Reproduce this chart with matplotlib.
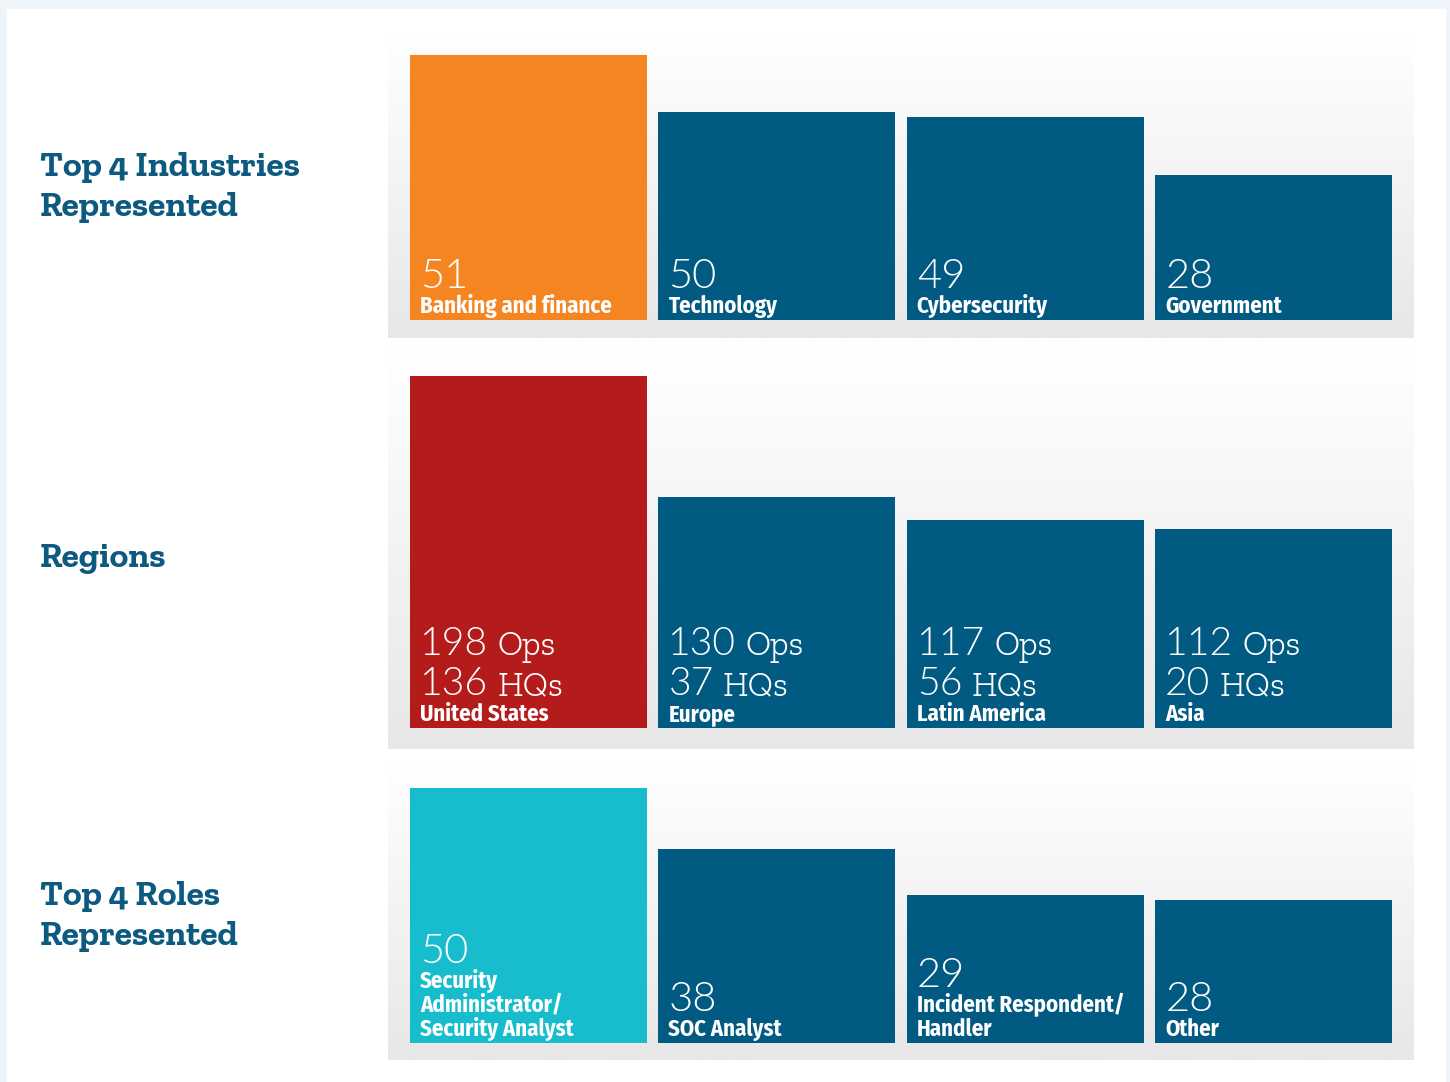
import numpy as np
import matplotlib
matplotlib.use("Agg")
import matplotlib.pyplot as plt
from matplotlib.patches import Rectangle
from matplotlib.colors import LinearSegmentedColormap

# ---- data ----
industries = ["Banking and finance", "Technology", "Cybersecurity", "Government"]
industry_counts = [51, 50, 49, 28]
# the original draws Technology / Cybersecurity columns shorter than their counts
industry_bar_heights = [51, 40, 39, 28]

regions = ["United States", "Europe", "Latin America", "Asia"]
region_ops = [198, 130, 117, 112]
region_hqs = [136, 37, 56, 20]

roles = [["Security", "Administrator/", "Security Analyst"],
         ["SOC Analyst"],
         ["Incident Respondent/", "Handler"],
         ["Other"]]
role_counts = [50, 38, 29, 28]

# ---- style ----
BLUE = "#015a82"
TITLE = "#0c5a80"
ORANGE = "#f58521"
RED = "#b31c1b"
CYAN = "#17bdcc"

W, H = 1450, 1082
BAR_W = 0.953

LABEL_FONT = dict(family=["Fira Sans Condensed", "DejaVu Sans"], weight=700,
                  size=16.4, color="white")
NUM_FONT = dict(family=["Lato", "DejaVu Sans"], weight=300, color="white")
UNIT_FONT = dict(family=["Zilla Slab", "DejaVu Serif"], weight=300, size=24.5,
                 color="white")
TITLE_FONT = dict(family=["Zilla Slab", "DejaVu Serif"], weight=700, size=25.5,
                  color=TITLE)

fig = plt.figure(figsize=(W / 100, H / 100), dpi=100)
fig.patch.set_facecolor("#eef4fa")
fig.add_artist(Rectangle((7 / W, 0), (1445 - 7) / W, (H - 9) / H,
                         transform=fig.transFigure, color="white", zorder=-10))

grad = LinearSegmentedColormap.from_list("panel", ["#ffffff", "#e7e7e7"])


def panel(top, bottom, bar_bottom, bar_top, heights, colors):
    ax = fig.add_axes([388 / W, 1 - bottom / H, (1414 - 388) / W, (bottom - top) / H])
    scale = (bar_bottom - bar_top) / max(heights)
    y0 = -(bottom - bar_bottom) / scale
    y1 = (bar_bottom - top) / scale
    x0, x1 = -0.565, 3.565
    ax.imshow(np.linspace(0, 1, 256).reshape(-1, 1), cmap=grad, aspect="auto",
              extent=[x0, x1, y0, y1], origin="upper", zorder=0)
    x = np.arange(len(heights))
    ax.bar(x, heights, width=BAR_W, color=colors, zorder=2)
    ax.set_xlim(x0, x1)
    ax.set_ylim(y0, y1)
    ax.axis("off")
    return ax


def put(ax, i, txt, dx, dy, **kw):
    return ax.annotate(txt, xy=(i - BAR_W / 2, 0), xytext=(dx, dy),
                       textcoords="offset pixels", ha="left", va="baseline",
                       zorder=3, **kw)


def label_lines(ax, i, lines):
    for k, line in enumerate(reversed(lines)):
        put(ax, i, line, 10, 7 + 24 * k, **LABEL_FONT)


# ---- panel 1: industries ----
ax1 = panel(35, 338, 320, 55, industry_bar_heights, [ORANGE, BLUE, BLUE, BLUE])
for i, (name, n) in enumerate(zip(industries, industry_counts)):
    put(ax1, i, str(n), 10, 32, size=30, **NUM_FONT)
    label_lines(ax1, i, [name])

# ---- panel 2: regions ----
ax2 = panel(350, 749, 728, 376, region_ops, [RED, BLUE, BLUE, BLUE])
renderer = fig.canvas.get_renderer()
for i, (name, ops, hqs) in enumerate(zip(regions, region_ops, region_hqs)):
    for value, unit, dy in [(ops, "Ops", 73), (hqs, "HQs", 33)]:
        t = put(ax2, i, str(value), 10, dy, size=28.2, **NUM_FONT)
        bb = t.get_window_extent(renderer)
        left = ax2.transData.transform((i - BAR_W / 2, 0))[0]
        put(ax2, i, unit, bb.x1 - left + 9, dy, **UNIT_FONT)
    label_lines(ax2, i, [name])

# ---- panel 3: roles ----
ax3 = panel(762, 1060, 1043, 788, role_counts, [CYAN, BLUE, BLUE, BLUE])
for i, (lines, n) in enumerate(zip(roles, role_counts)):
    put(ax3, i, str(n), 10, 7 + 24 * len(lines) + 1, size=30, **NUM_FONT)
    label_lines(ax3, i, lines)

# ---- titles on the left ----
fig.text(40 / W, 1 - 176 / H, "Top 4 Industries", va="baseline", **TITLE_FONT)
fig.text(40 / W, 1 - 216 / H, "Represented", va="baseline", **TITLE_FONT)
fig.text(40 / W, 1 - 567 / H, "Regions", va="baseline", **TITLE_FONT)
fig.text(40 / W, 1 - 905 / H, "Top 4 Roles", va="baseline", **TITLE_FONT)
fig.text(40 / W, 1 - 945 / H, "Represented", va="baseline", **TITLE_FONT)

fig.savefig("out.png", dpi=100, facecolor=fig.get_facecolor())
